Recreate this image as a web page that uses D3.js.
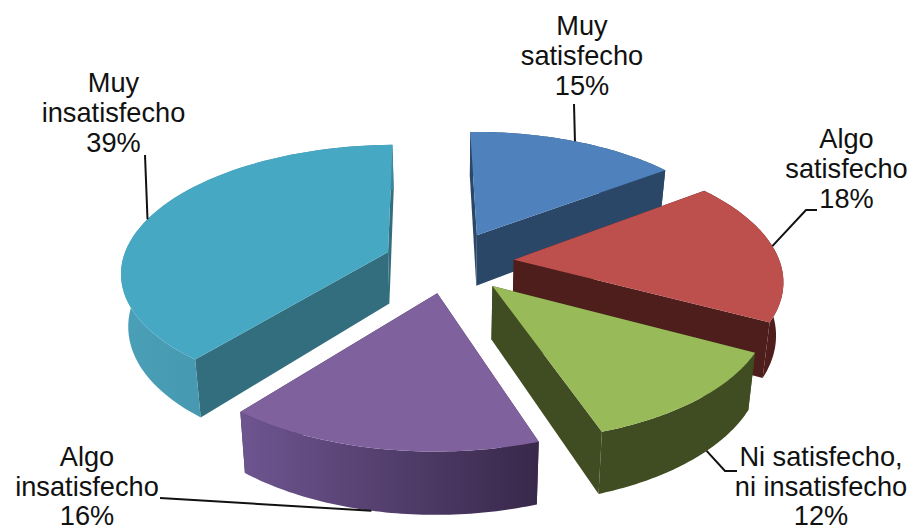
<!DOCTYPE html>
<html lang="es">
<head>
<meta charset="utf-8">
<title>Satisfacción</title>
<script src="https://cdn.jsdelivr.net/npm/d3@7/dist/d3.min.js"></script>
<style>
  html, body { margin: 0; background: #fff; }
  text { font-family: "Liberation Sans", Arial, sans-serif; font-size: 27.2px; fill: #111; text-anchor: middle; }
</style>
</head>
<body>
<svg id="chart" width="910" height="531"></svg>
<script>
// Survey answers, in clockwise order starting just before twelve o'clock
const categories = ["Muy satisfecho", "Algo satisfecho", "Ni satisfecho, ni insatisfecho", "Algo insatisfecho", "Muy insatisfecho"];
const shares = [15, 18, 12, 16, 39];
const labelLines = [["Muy", "satisfecho", "15%"], ["Algo", "satisfecho", "18%"], ["Ni satisfecho,", "ni insatisfecho", "12%"], ["Algo", "insatisfecho", "16%"], ["Muy", "insatisfecho", "39%"]];

const topColors = ["#4f81bd", "#bd4f4c", "#99ba59", "#7f619d", "#47a8c3"];
const cutColors = ["#2a4768", "#4e1e1d", "#404c21", "#3d2b4c", "#336e7e"];
const rimFrom = ["#2a4768", "#4e1e1d", "#404c21", "#6e5590", "#4aa0b8"];
const rimTo = ["#2a4768", "#4e1e1d", "#404c21", "#38284a", "#3c889f"];

// Camera model: the pie lies on a tilted plane seen in perspective
const view = { cx: 449, cy: 262, scaleX: 266, scaleY: 125.4, persp: 0.144, depth: 52, taper: 0.022, explode: 0.245 };
const firstAngle = -0.8 * Math.PI / 180;

function project(X, Y, lower) {
  const w = 1 - view.persp * Y;
  let x = view.scaleX * X / w;
  let y = view.scaleY * Y / w;
  if (lower) { x *= 1 - view.taper; y += view.depth / w; }
  return [view.cx + x, view.cy + y];
}

const arcs = d3.pie().sort(null).value(d => d)
  .startAngle(firstAngle).endAngle(firstAngle + 2 * Math.PI)(shares);
const svg = d3.select("#chart");
const defs = svg.append("defs");
const line = d3.line();

function slicePoint(a, angle, radius, lower) {
  const mid = (a.startAngle + a.endAngle) / 2;
  const X = view.explode * Math.sin(mid) + radius * Math.sin(angle);
  const Y = -view.explode * Math.cos(mid) - radius * Math.cos(angle);
  return project(X, Y, lower);
}

function arcPoints(a, lower) {
  return d3.range(0, 61).map(i => {
    const t = a.startAngle + (a.endAngle - a.startAngle) * i / 60;
    return slicePoint(a, t, 1, lower);
  });
}

function closed(points) { return line(points) + "Z"; }

// Painted from the far side of the pie to the near side
const paintOrder = [0, 4, 1, 3, 2];

paintOrder.forEach(i => {
  const a = arcs[i];
  const g = svg.append("g").attr("class", "slice").attr("aria-label", categories[i]);
  const top = arcPoints(a, false);
  const low = arcPoints(a, true);
  const apexTop = slicePoint(a, 0, 0, false);
  const apexLow = slicePoint(a, 0, 0, true);

  // Two cut faces running from the hub out to the rim
  [0, 60].forEach(k => {
    g.append("path")
      .attr("d", closed([apexTop, top[k], low[k], apexLow]))
      .attr("fill", cutColors[i]);
  });

  // Outer wall, shaded from left to right
  const xs = d3.extent(top, p => p[0]);
  const gradId = "rim" + i;
  const grad = defs.append("linearGradient").attr("id", gradId)
    .attr("gradientUnits", "userSpaceOnUse")
    .attr("x1", xs[0]).attr("x2", xs[1]).attr("y1", 0).attr("y2", 0);
  grad.append("stop").attr("offset", 0).attr("stop-color", rimFrom[i]);
  grad.append("stop").attr("offset", 1).attr("stop-color", rimTo[i]);
  g.append("path")
    .attr("d", closed(top.concat(low.slice().reverse())))
    .attr("fill", `url(#${gradId})`);

  // Upper face
  g.append("path")
    .attr("d", closed([apexTop].concat(top)))
    .attr("fill", topColors[i]);
});

// Leader lines: rim fraction where each one starts, then its route to the label
const leaderAnchors = [0.5, 0.47, 0.4, 0.53, 0.48];
const leaderRoutes = [
  [[574, 104]],
  [[806, 210], [817, 210]],
  [[725, 471], [737, 471]],
  [[160, 498]],
  [[145, 155]]
];
const leaderOnFront = [false, false, true, true, false];
arcs.forEach((a, i) => {
  const t = a.startAngle + (a.endAngle - a.startAngle) * leaderAnchors[i];
  const start = slicePoint(a, t, 1, leaderOnFront[i]);
  svg.append("path")
    .attr("d", line([start].concat(leaderRoutes[i])))
    .attr("fill", "none").attr("stroke", "#111").attr("stroke-width", 2);
});

// Data labels, three centred lines each
const labelCentres = [582, 846.5, 821, 87, 113.5];
const labelBaselines = [[35, 65, 95], [148, 178, 208], [466, 495.5, 525], [466, 495.5, 525], [92, 122, 152]];
labelLines.forEach((lines, i) => {
  const t = svg.append("text").attr("x", labelCentres[i]);
  lines.forEach((s, k) => {
    t.append("tspan").attr("x", labelCentres[i]).attr("y", labelBaselines[i][k]).text(s);
  });
});
</script>
</body>
</html>
